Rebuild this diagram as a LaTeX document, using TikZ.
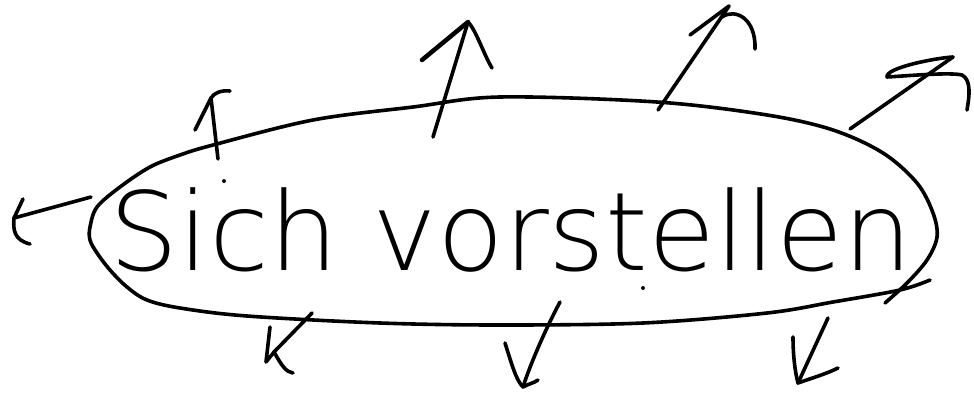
\documentclass[tikz,border=0pt]{standalone}
\usepackage{fontspec}
\newfontfamily\hand{DejaVu Sans ExtraLight}
\begin{document}
\begin{tikzpicture}[x=1pt,y=-1pt,
  ink/.style={line width=3.6pt,line cap=round,line join=round,black},
  title/.style={font=\hand\fontsize{109}{109}\selectfont,inner sep=0pt,anchor=base}]
\fill[white] (0,0) rectangle (974,394);
\useasboundingbox (0,0) rectangle (974,394);

% bubble
\draw[ink] plot[smooth,tension=0.55] coordinates {
 (930,280) (900,290) (833,302) (767,313) (643,323) (500,325) (380,323)
 (247,316) (180,308) (147,300) (127,287) (110,270) (97,253) (90,240)
 (90,227) (97,207) (120,187) (150,167) (180,155) (213,145) (313,120)
 (413,107) (500,97) (657,102) (767,115) (833,130) (883,153) (917,183)
 (933,213) (937,237) (927,260) (907,283) (885,303)};

\node[title] (t) at (511,270) {Sich vorstellen};

% stray dots
\fill (224,181) circle (2);
\fill (643,288) circle (2);

% arrow tails and tips
\coordinate (s1) at (91,197);  \coordinate (e1) at (14,218);
\coordinate (s2) at (218,159); \coordinate (e2) at (211,98);
\coordinate (s3) at (433,137); \coordinate (e3) at (468,22);
\coordinate (s4) at (658,110); \coordinate (e4) at (729,6);
\coordinate (s5) at (850,129); \coordinate (e5) at (953,57);
\coordinate (s6) at (312,313); \coordinate (e6) at (274,352);
\coordinate (s7) at (560,302); \coordinate (e7) at (523,387);
\coordinate (s8) at (828,318); \coordinate (e8) at (798,383);

% 1 left
\draw[ink] (s1) -- (e1);
\draw[ink] (23,199) -- (e1) .. controls (13,230) and (14,240) .. (30,244);
% 2 upper left
\draw[ink] (s2) -- (e2);
\draw[ink] (195,130) -- (e2) .. controls (214,93) and (221,90) .. (230,91);
% 3
\draw[ink] (s3) -- (e3);
\draw[ink,line width=4.5pt] (422,60) -- (e3);
\draw[ink] (e3) .. controls (476,30) and (484,55) .. (492,68);
% 4
\draw[ink] (s4) -- (e4);
\draw[ink] (690,35) -- (e4);
\draw[ink] (722,17) .. controls (735,8) and (756,18) .. (755,49);
% 5
\draw[ink] (s5) -- (e5);
\draw[ink] (e5) .. controls (935,58) and (885,68) .. (887,77)
  .. controls (905,76) and (950,72) .. (962,75)
  .. controls (972,80) and (969,98) .. (967,110);
% 6
\draw[ink] (s6) -- (e6);
\draw[ink] (270,327) -- (266,362) -- (e6) .. controls (282,366) and (286,372) .. (293,373);
% 7
\draw[ink] (s7) .. controls (545,330) and (530,365) .. (e7);
\draw[ink] (505,343) .. controls (512,365) and (516,380) .. (e7) .. controls (528,384) and (534,383) .. (538,380);
% 8
\draw[ink] (s8) -- (e8);
\draw[ink] (793,337) .. controls (793,355) and (795,372) .. (e8) .. controls (812,378) and (826,374) .. (838,368);
\end{tikzpicture}
\end{document}
